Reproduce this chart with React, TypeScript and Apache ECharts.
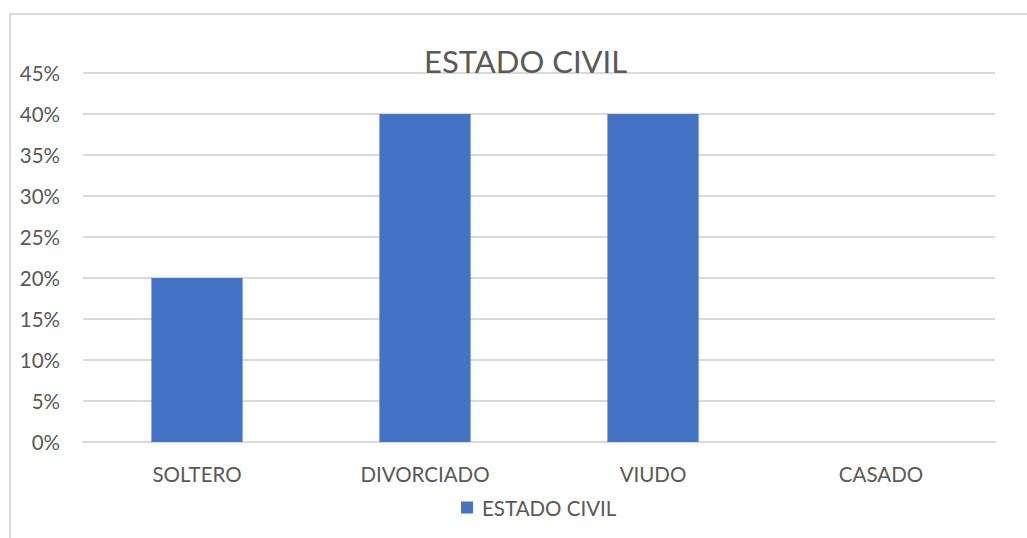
import React, { useEffect, useRef } from "react";
import * as echarts from "echarts";

const categories = ["SOLTERO", "DIVORCIADO", "VIUDO", "CASADO"];
const values = [0.2, 0.4, 0.4, 0];
const seriesName = "ESTADO CIVIL";
const titleText = "ESTADO CIVIL";

export default function App() {
  const ref = useRef<HTMLDivElement>(null);
  useEffect(() => {
    if (!ref.current) return;
    const chart = echarts.init(ref.current, null, { renderer: "svg" });
    const font = "Lato";
    chart.setOption({
      animation: false,
      backgroundColor: "#ffffff",
      title: {
        text: titleText,
        left: 419,
        top: 40,
        textStyle: { fontFamily: font, fontSize: 31, fontWeight: "normal", color: "#595959" },
      },
      graphic: [
        {
          type: "rect",
          shape: { x: 10, y: 14, width: 1040, height: 560 },
          style: { fill: "none", stroke: "#d9d9d9", lineWidth: 2 },
          silent: true,
          z: -1,
        },
      ],
      legend: {
        bottom: 15,
        left: 456,
        itemWidth: 12,
        itemHeight: 12,
        itemGap: 10,
        icon: "rect",
        data: [seriesName],
        textStyle: { fontFamily: font, fontSize: 20.5, color: "#595959", padding: [0, 0, 0, 4] },
      },
      grid: { left: 83, right: 32, top: 73, bottom: 96, containLabel: false },
      xAxis: {
        type: "category",
        data: categories,
        axisLine: { show: true, lineStyle: { color: "#d9d9d9", width: 2 } },
        axisTick: { show: false },
        axisLabel: { fontFamily: font, fontSize: 20.5, color: "#595959", margin: 21 },
      },
      yAxis: {
        type: "value",
        min: 0,
        max: 0.45,
        interval: 0.05,
        axisLine: { show: false },
        axisTick: { show: false },
        splitLine: { lineStyle: { color: "#d9d9d9", width: 2 } },
        axisLabel: {
          fontFamily: font,
          fontSize: 20.5,
          color: "#595959",
          margin: 23,
          formatter: (v: number) => `${Math.round(v * 100)}%`,
        },
      },
      series: [
        {
          name: seriesName,
          type: "bar",
          data: values,
          barWidth: "40%",
          itemStyle: { color: "#4472c4" },
        },
      ],
    });
    return () => chart.dispose();
  }, []);
  return (
    <div
      ref={ref}
      style={{ position: "fixed", left: 0, top: 0, width: 1027, height: 538 }}
    />
  );
}
